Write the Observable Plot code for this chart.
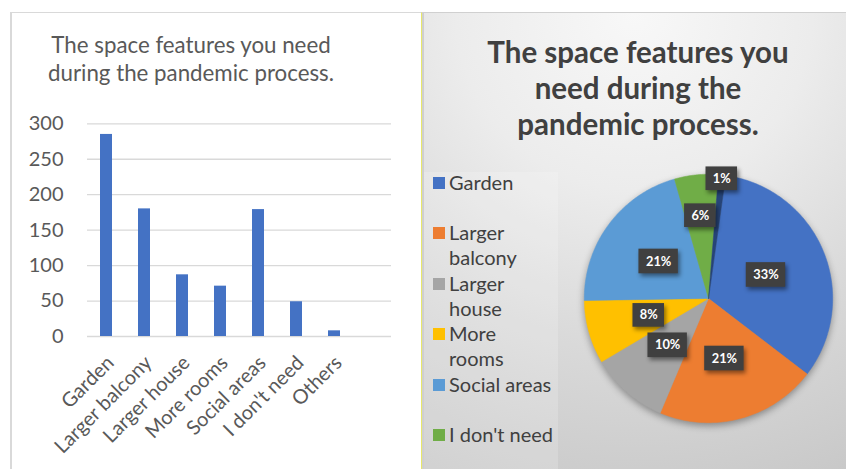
<!DOCTYPE html>
<html><head><meta charset="utf-8">
<script src="https://cdn.jsdelivr.net/npm/d3@7"></script>
<script src="https://cdn.jsdelivr.net/npm/@observablehq/plot@0.6"></script>
<style>
body{margin:0;background:#fff;}
#root{position:relative;width:846px;height:469px;overflow:hidden;background:#fff;font-family:Lato,sans-serif;}
#leftPanel{position:absolute;left:10px;top:12px;width:411px;height:470px;border-left:2px solid #d9d9d9;border-top:1px solid #d9d9d9;box-sizing:border-box;}
#rightPanel{position:absolute;left:421px;top:12px;width:425px;height:460px;box-sizing:border-box;border-left:1px solid #e8e86a;border-top:1px solid #d0d0d0;
  background:radial-gradient(ellipse 120% 110% at 50% 0%, #f8f8f8 0%, #ececec 35%, #dadada 65%, #c8c8c8 100%);}
#rightStrip{position:absolute;left:422px;top:13px;width:2px;height:460px;background:#cfcfcf;}
#leftTitle{position:absolute;left:0;top:31px;width:382px;text-align:center;font-size:22.3px;line-height:28px;color:#595959;}
#rightTitle{position:absolute;left:438px;top:34px;width:400px;text-align:center;font-size:29.5px;font-weight:bold;line-height:36px;color:#404040;}
#legendBox{position:absolute;left:424px;top:172px;width:134px;height:300px;background:rgba(255,255,255,0.18);}
#legend{position:absolute;left:433px;top:170px;}
.li{position:relative;height:50.4px;}
.sw{position:absolute;left:0;top:7px;width:12px;height:12px;}
.lt{position:absolute;left:16px;top:0;white-space:pre;font-size:20px;line-height:25px;color:#404040;}
#bar{position:absolute;left:0;top:0;}
#pie{position:absolute;left:570px;top:160px;}
</style></head>
<body>
<div id="root">
  <div id="leftPanel"></div>
  <div id="rightPanel"></div>
  <div id="rightStrip"></div>
  <div id="leftTitle"></div>
  <div id="rightTitle"></div>
  <div id="legendBox"></div>
  <div id="legend"></div>
  <div id="bar"></div>
  <div id="pie"></div>
</div>
<script>
const categories = ["Garden","Larger balcony","Larger house","More rooms","Social areas","I don't need","Others"];
const counts = [285,180,87,71,179,49,8];
const sliceColors = ["#4472C4","#ED7D31","#A5A5A5","#FFC000","#5B9BD5","#70AD47","#264478"];
const yTicks = [0,50,100,150,200,250,300];
const barTitleLines = ["The space features you need","during the pandemic process."];
const pieTitleLines = ["The space features you","need during the","pandemic process."];
// legend as shown (wrapped as in the reference; the last entry is cut off there)
const legendLabels = ["Garden","Larger\nbalcony","Larger\nhouse","More\nrooms","Social areas","I don't need"];
const barColor = "#4472C4";
const pieRotationDeg = 8;

document.getElementById("leftTitle").innerHTML = barTitleLines.join("<br>");
document.getElementById("rightTitle").innerHTML = pieTitleLines.join("<br>");

const legend = document.getElementById("legend");
legendLabels.forEach((c,i)=>{
  const li = document.createElement("div"); li.className="li";
  const sw = document.createElement("div"); sw.className="sw"; sw.style.background = sliceColors[i];
  const lt = document.createElement("div"); lt.className="lt"; lt.textContent = c;
  li.appendChild(sw); li.appendChild(lt); legend.appendChild(li);
});

// bar chart
const barData = categories.map((c,i)=>({cat:c, value:counts[i]}));
const W = 420, H = 469, mL = 87, mR = 29, mT = 123.3, mB = 133;
const plotW = W - mL - mR;
const bar = Plot.plot({
  width: W, height: H,
  marginLeft: mL, marginRight: mR, marginTop: mT, marginBottom: mB,
  style:{fontFamily:"Lato, sans-serif", fontSize:"20px", color:"#595959", background:"transparent", overflow:"visible"},
  x:{domain:categories, range:[mL, mL + plotW*7/8], paddingInner:0.684, paddingOuter:0.342, label:null},
  y:{domain:[0,300], ticks:yTicks, tickSize:0, tickPadding:24, label:null},
  marks:[
    Plot.ruleY(yTicks, {stroke:"#d9d9d9", strokeWidth:1.3}),
    Plot.barY(barData, {x:"cat", y:"value", fill:barColor}),
    Plot.axisX({tickSize:0, tickPadding:23, tickRotate:-45, dx:4, label:null, fontSize:20})
  ]
});
document.getElementById("bar").appendChild(bar);

// pie
const total = d3.sum(counts);
const rot = pieRotationDeg*Math.PI/180;
const arcs = d3.pie().sort(null).startAngle(rot).endAngle(rot+2*Math.PI)(counts);
const slicePts = [];
arcs.forEach((a,i)=>{
  const c = categories[i];
  slicePts.push({cat:c,x:0,y:0});
  const n = Math.max(2, Math.ceil((a.endAngle-a.startAngle)*180/Math.PI));
  for(let k=0;k<=n;k++){
    const t = a.startAngle + (a.endAngle-a.startAngle)*k/n;
    slicePts.push({cat:c, x:Math.sin(t), y:Math.cos(t)});
  }
  slicePts.push({cat:c,x:0,y:0});
});
const fmt = d3.format(".0%");
const labelPts = arcs.map((a,i)=>{
  const share = counts[i]/total;
  const m = (a.startAngle+a.endAngle)/2;
  const r = share < 0.03 ? 0.97 : share < 0.07 ? 0.67 : 0.5;
  return {cat:categories[i], text:fmt(share), x:r*Math.sin(m), y:r*Math.cos(m)};
});
const PS = 280, S = 140/126;
const pie = Plot.plot({
  width:PS, height:PS, margin:0,
  style:{fontFamily:"Lato, sans-serif", background:"transparent", overflow:"visible"},
  x:{domain:[-S,S], axis:null},
  y:{domain:[-S,S], axis:null},
  color:{domain:categories, range:sliceColors},
  marks:[
    Plot.line(slicePts, {x:"x", y:"y", z:"cat", fill:"cat", stroke:"cat", strokeWidth:0.5, curve:"linear"}),
    Plot.rect(labelPts.filter(d=>d.text.length>2), {x1:"x", x2:"x", y1:"y", y2:"y", insetLeft:-20, insetRight:-20, insetTop:-12.5, insetBottom:-12.5, fill:"#404040"}),
    Plot.rect(labelPts.filter(d=>d.text.length<=2), {x1:"x", x2:"x", y1:"y", y2:"y", insetLeft:-16, insetRight:-16, insetTop:-12, insetBottom:-12, fill:"#404040"}),
    Plot.text(labelPts, {x:"x", y:"y", text:"text", fill:"white", fontWeight:"bold", fontSize:13})
  ]
});
document.getElementById("pie").appendChild(pie);
const lineG = pie.querySelector('g[aria-label="line"]');
if (lineG) lineG.style.filter = "drop-shadow(0px 3px 4px rgba(0,0,0,0.35))";
pie.querySelectorAll('g[aria-label="rect"]').forEach(g=>g.style.filter="drop-shadow(2px 3px 2px rgba(0,0,0,0.45))");
</script>
</body></html>
